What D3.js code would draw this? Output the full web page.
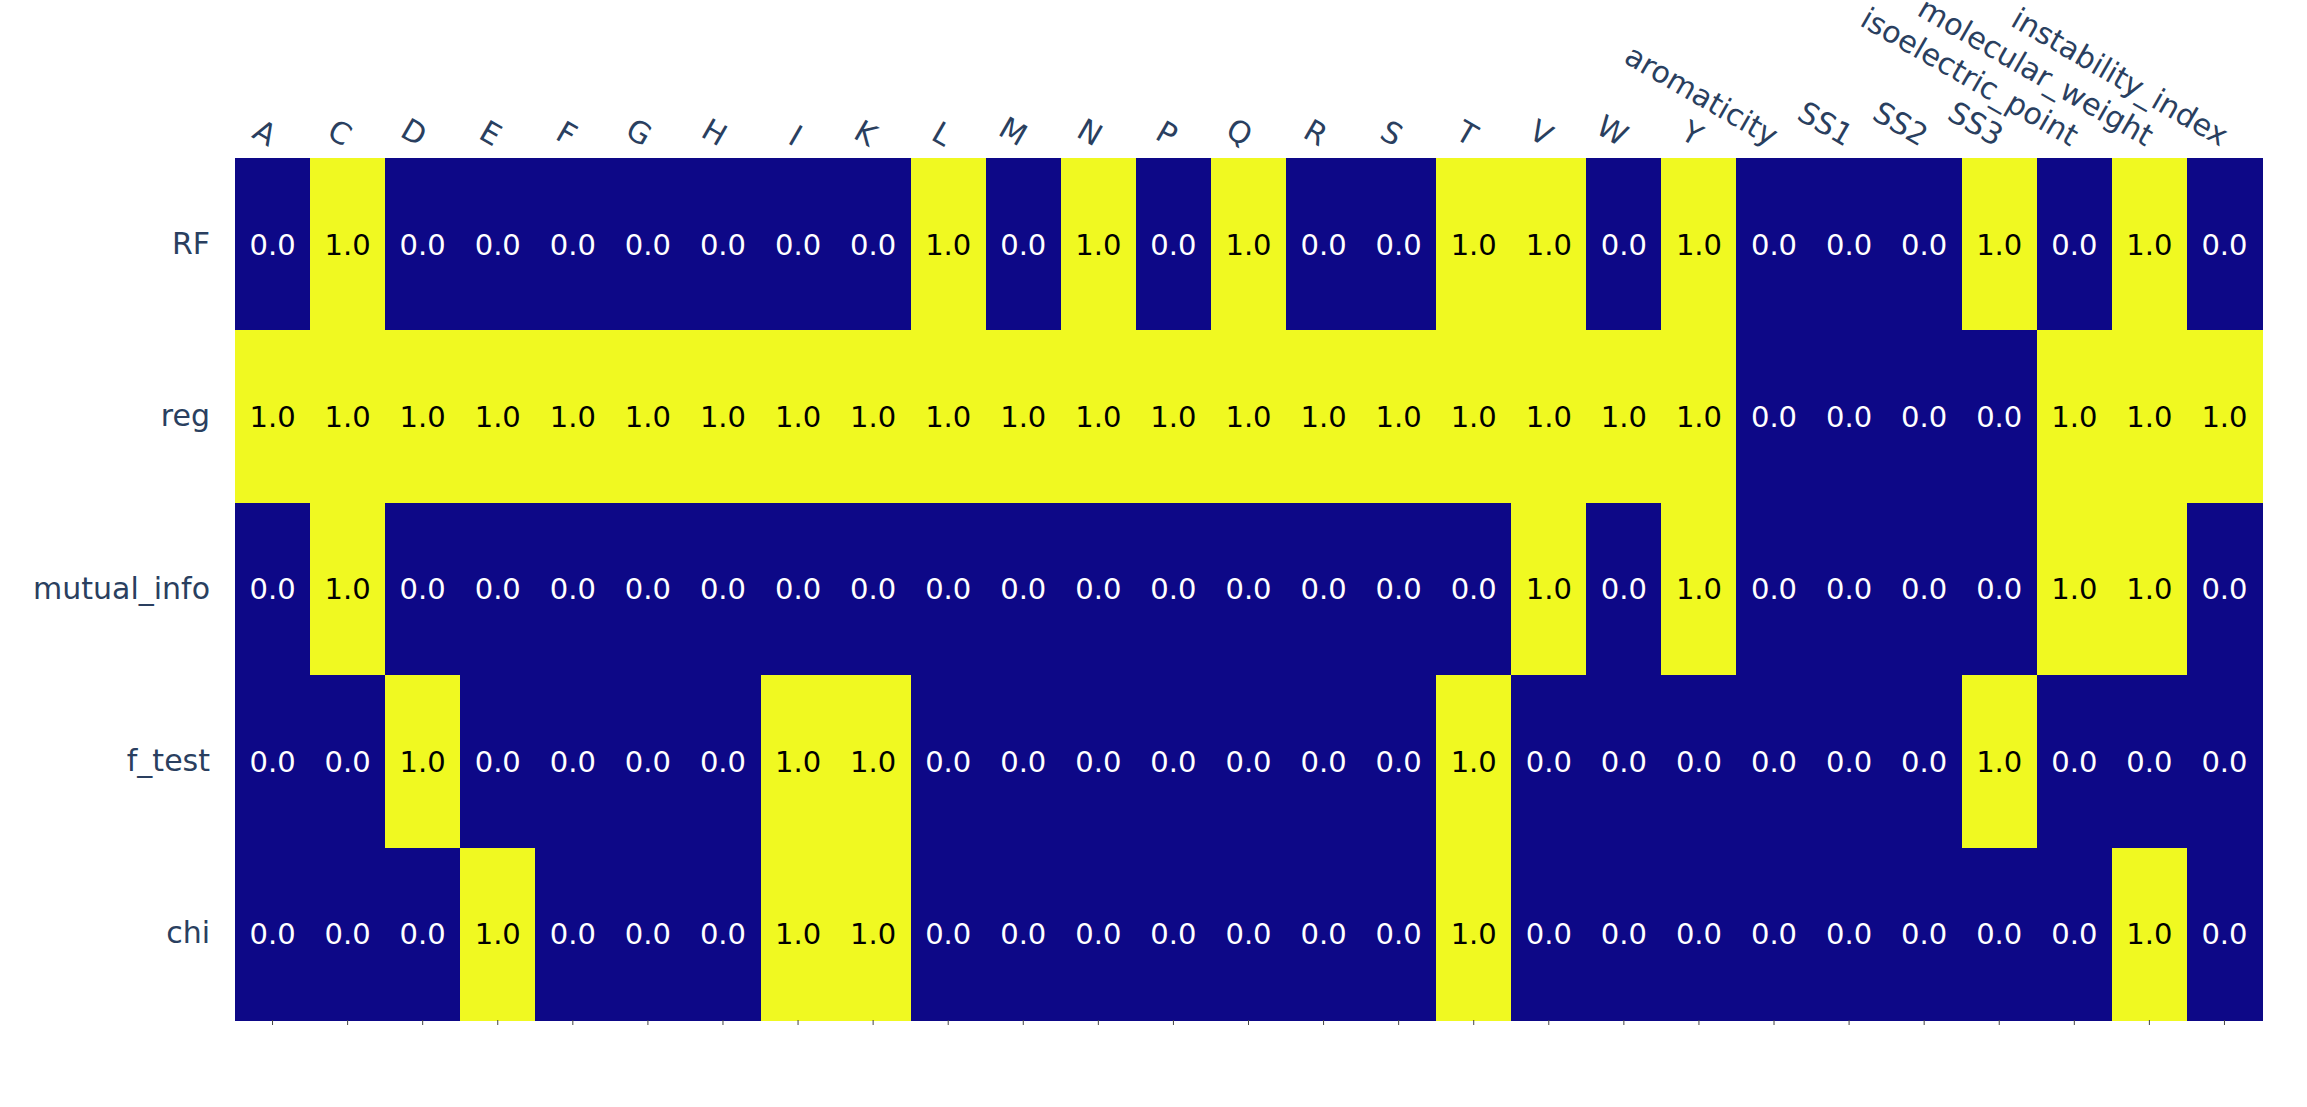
<!DOCTYPE html>
<html>
<head>
<meta charset="utf-8">
<script src="https://cdn.jsdelivr.net/npm/d3@7"></script>
<style>
  html, body { margin: 0; padding: 0; background: #ffffff; }
  svg { display: block; }
</style>
</head>
<body>
<svg id="chart" width="2307" height="1107"></svg>
<script>
const features = ["A","C","D","E","F","G","H","I","K","L","M","N","P","Q","R","S","T","V","W","Y",
  "aromaticity","SS1","SS2","SS3","isoelectric_point","molecular_weight","instability_index"];
const methods = ["RF","reg","mutual_info","f_test","chi"];

const RF          = [0,1,0,0,0,0,0,0,0,1,0,1,0,1,0,0,1,1,0,1,0,0,0,1,0,1,0];
const reg         = [1,1,1,1,1,1,1,1,1,1,1,1,1,1,1,1,1,1,1,1,0,0,0,0,1,1,1];
const mutual_info = [0,1,0,0,0,0,0,0,0,0,0,0,0,0,0,0,0,1,0,1,0,0,0,0,1,1,0];
const f_test      = [0,0,1,0,0,0,0,1,1,0,0,0,0,0,0,0,1,0,0,0,0,0,0,1,0,0,0];
const chi         = [0,0,0,1,0,0,0,1,1,0,0,0,0,0,0,0,1,0,0,0,0,0,0,0,0,1,0];

const seriesValues = [RF, reg, mutual_info, f_test, chi];

const cells = [];
methods.forEach((m, i) => {
  features.forEach((f, j) => cells.push({row: m, col: f, value: seriesValues[i][j]}));
});

const svg = d3.select("#chart");
const margin = {left: 235, top: 158, right: 2307 - 2262, bottom: 1107 - 1020};
const W = 2307 - margin.left - margin.right;
const H = 1107 - margin.top - margin.bottom;
const fontFamily = "'DejaVu Sans', Verdana, sans-serif";

const x = d3.scaleBand().domain(features).range([0, W]).padding(0);
const y = d3.scaleBand().domain(methods).range([0, H]).padding(0);
const color = d3.scaleSequential(d3.interpolatePlasma).domain([0, 1]);

const g = svg.append("g").attr("transform", `translate(${margin.left},${margin.top})`);

g.selectAll("rect.cell").data(cells).join("rect")
  .attr("class", "cell")
  .attr("x", d => x(d.col))
  .attr("y", d => y(d.row))
  .attr("width", x.bandwidth() + 1)
  .attr("height", y.bandwidth() + 1)
  .attr("shape-rendering", "crispEdges")
  .attr("fill", d => d.value >= 0.5 ? "#f0f921" : "#0d0887");

g.selectAll("text.val").data(cells).join("text")
  .attr("class", "val")
  .attr("x", d => x(d.col) + x.bandwidth() / 2)
  .attr("y", d => y(d.row) + y.bandwidth() / 2)
  .attr("text-anchor", "middle")
  .attr("dy", "0.36em")
  .attr("font-family", fontFamily)
  .attr("font-size", 29)
  .attr("fill", d => d.value >= 0.5 ? "#000000" : "#ffffff")
  .text(d => d3.format(".1f")(d.value));

// Row labels
const yAxis = g.append("g").call(d3.axisLeft(y).tickSize(0).tickPadding(25));
yAxis.select(".domain").remove();
yAxis.selectAll("text")
  .attr("font-family", fontFamily)
  .attr("font-size", 30)
  .attr("fill", "#2a3f5f");

// Top labels, rotated 30 degrees
const xTop = g.append("g").call(d3.axisTop(x).tickSize(0).tickPadding(0));
xTop.select(".domain").remove();
xTop.selectAll(".tick text")
  .attr("font-family", fontFamily)
  .attr("font-size", 30)
  .attr("fill", "#2a3f5f")
  .attr("text-anchor", "end")
  .attr("x", 0)
  .attr("y", 0)
  .attr("dy", "0")
  .attr("transform", "translate(-4,-11) rotate(30)");

// Bottom ticks
const xBot = g.append("g").attr("transform", `translate(0,${H})`)
  .call(d3.axisBottom(x).tickSize(5).tickFormat(""));
xBot.select(".domain").remove();
xBot.selectAll(".tick line").attr("stroke", "#444").attr("stroke-width", 1);
</script>
</body>
</html>
